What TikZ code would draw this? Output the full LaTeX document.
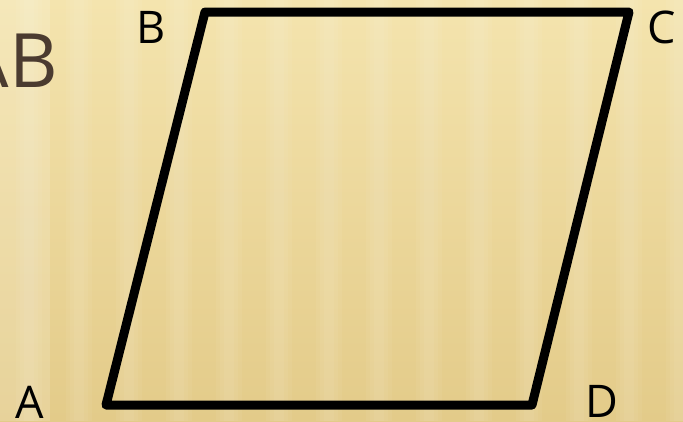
\documentclass[tikz,border=0pt]{standalone}
\usepackage{fontspec}
\setmainfont{Open Sans}
\definecolor{bgtop}{HTML}{F4E4AE}
\definecolor{bgmid}{HTML}{EBD699}
\definecolor{bgbot}{HTML}{E3CB89}
\definecolor{brownText}{HTML}{4B3B30}
\begin{document}
\begin{tikzpicture}[x=1pt,y=-1pt,
  vlabel/.style={font=\fontsize{45}{45}\selectfont, text=black, inner sep=0pt},
  edge/.style={line width=9pt, line join=round, black}]
\useasboundingbox (0,0) rectangle (683,421);
% background
\shade[top color=bgtop, bottom color=bgmid] (0,0) rectangle (683,230);
\shade[top color=bgmid, bottom color=bgbot] (0,230) rectangle (683,421);
\fill[white, opacity=0.15] (0,0) rectangle (50,421);
\foreach \x in {20,70,120,170,220,270,320,370,420,470,520,570,620,670}{
  \fill[white, opacity=0.05] (\x-4,0) rectangle (\x+22,421);
  \fill[white, opacity=0.05] (\x,0) rectangle (\x+18,421);
  \fill[white, opacity=0.05] (\x+4,0) rectangle (\x+14,421);
}
% partial title
\node[anchor=base east, font=\fontsize{75}{75}\selectfont, text=brownText, inner sep=0pt] (title) at (58,87) {AB};
% vertices
\coordinate (A) at (106,405);
\coordinate (B) at (205,12);
\coordinate (C) at (629,12);
\coordinate (D) at (532,405);
\draw[edge] (A) -- (B) -- (C) -- (D) -- cycle;
% labels
\node[vlabel, anchor=base] (lA) at (30,418) {A};
\node[vlabel, anchor=base] (lB) at (151,43) {B};
\node[vlabel, anchor=base] (lC) at (662,43) {C};
\node[vlabel, anchor=base] (lD) at (602,417) {D};
\end{tikzpicture}
\end{document}
